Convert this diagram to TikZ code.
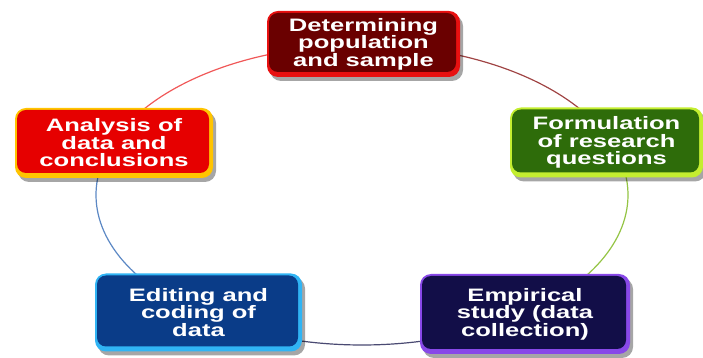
\documentclass[tikz,border=0pt]{standalone}
\usepackage{fontspec}
\newfontfamily\boxfont[FakeStretch=1.42]{Liberation Sans}
\usetikzlibrary{shadows,calc}
\definecolor{topmain}{HTML}{6A0000}\definecolor{topedge}{HTML}{E81010}
\definecolor{leftmain}{HTML}{E60000}\definecolor{leftedge}{HTML}{FFC400}
\definecolor{rightmain}{HTML}{2E6C0A}\definecolor{rightedge}{HTML}{C4EE30}
\definecolor{blmain}{HTML}{0A3C88}\definecolor{bledge}{HTML}{30B4F4}
\definecolor{brmain}{HTML}{120E48}\definecolor{bredge}{HTML}{8848E8}
\definecolor{arcA}{HTML}{F05858}\definecolor{arcB}{HTML}{A04444}
\definecolor{arcC}{HTML}{94C444}\definecolor{arcD}{HTML}{4A4A72}
\definecolor{arcE}{HTML}{5C88C4}
\tikzset{
  gbox/.style 2 args={rounded corners=11pt, fill=#2, text=white, align=center,
    font=\boxfont\bfseries\fontsize{18}{17.5}\selectfont, inner sep=0pt,
    drop shadow={shadow xshift=3pt, shadow yshift=-4pt, opacity=.35, fill=black},
    path picture={\fill[#1, rounded corners=9pt]
      ([shift={(2pt,-2pt)}]path picture bounding box.north west) rectangle
      ([shift={(-4pt,5pt)}]path picture bounding box.south east);}},
  ring/.style={line width=1.2pt}
}
\begin{document}
\begin{tikzpicture}[x=1pt,y=1pt]
\useasboundingbox (0,0) rectangle (703,358);
\coordinate (C) at (362,163);
% ring segments
\coordinate (a1) at ($(C)+(150:266 and 150)$);
\coordinate (a2) at ($(C)+(75:266 and 150)$);
\coordinate (a3) at ($(C)+(15:266 and 150)$);
\coordinate (a4) at ($(C)+(-70:266 and 150)$);
\coordinate (a5) at ($(C)+(220:266 and 150)$);
\draw[ring, arcA] (a1) arc[start angle=150, end angle=105, x radius=266, y radius=150];
\draw[ring, arcB] (a2) arc[start angle=75, end angle=30, x radius=266, y radius=150];
\draw[ring, arcC] (a3) arc[start angle=15, end angle=-40, x radius=266, y radius=150];
\draw[ring, arcD] (a4) arc[start angle=-70, end angle=-110, x radius=266, y radius=150];
\draw[ring, arcE] (a5) arc[start angle=220, end angle=165, x radius=266, y radius=150];
% boxes
\node[gbox={topmain}{topedge}, minimum width=193, minimum height=66] (pop) at (363.5,314) {Determining\\population\\and sample};
\node[gbox={rightmain}{rightedge}, minimum width=193, minimum height=70] (form) at (606.5,215.5) {Formulation\\of research\\questions};
\node[gbox={brmain}{bredge}, minimum width=210, minimum height=80] (emp) at (525,44) {Empirical\\study (data\\collection)};
\node[gbox={blmain}{bledge}, minimum width=207, minimum height=78] (edit) at (198.5,45.5) {Editing and\\coding of\\data};
\node[gbox={leftmain}{leftedge}, minimum width=198, minimum height=70] (anal) at (114,215) {Analysis of\\data and\\conclusions};
\end{tikzpicture}
\end{document}
